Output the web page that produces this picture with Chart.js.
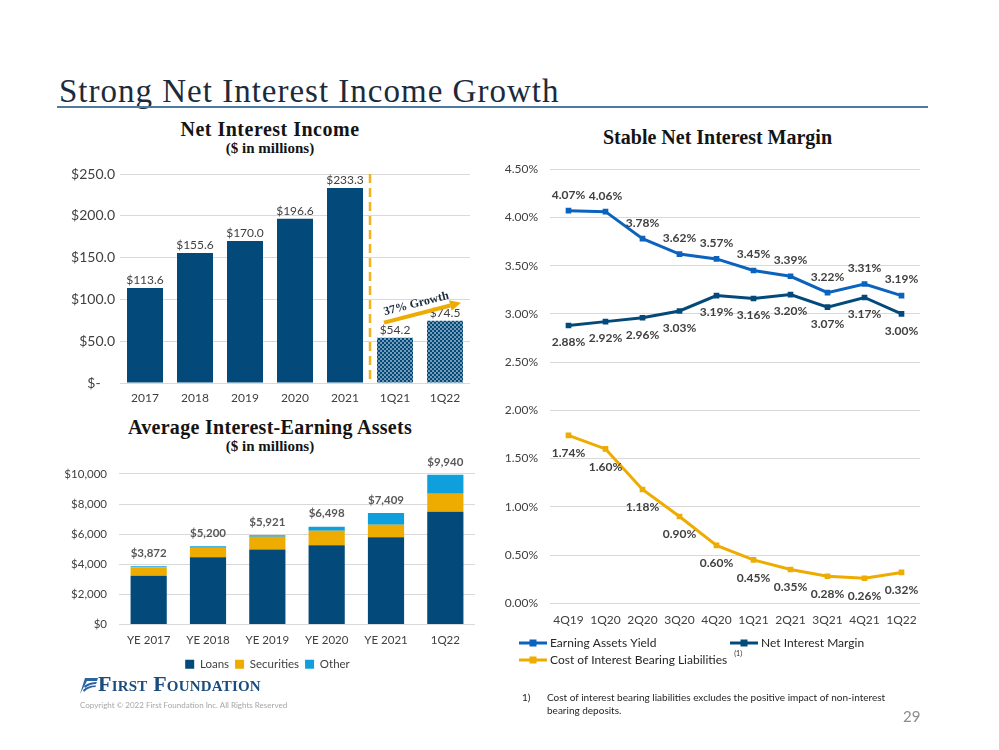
<!DOCTYPE html>
<html><head><meta charset="utf-8">
<script src="https://cdn.jsdelivr.net/npm/chart.js@4.4.1/dist/chart.umd.min.js"></script>
<style>
html,body{margin:0;padding:0;}
body{width:999px;height:750px;background:#fff;position:relative;overflow:hidden;font-family:Lato,"Open Sans",sans-serif;}
.abs{position:absolute;}
#title{left:59px;top:75px;font-family:"Liberation Serif",serif;font-size:33px;line-height:33px;letter-spacing:1px;color:#1c2b3c;white-space:nowrap;}
#rule{left:57px;top:106px;width:871px;height:2px;background:#4d7aa2;}
.ct{font-family:"Liberation Serif",serif;font-weight:bold;color:#141414;text-align:center;white-space:nowrap;}
canvas{position:absolute;}
#logo{left:78px;top:676px;height:20px;white-space:nowrap;}
#logotext{position:absolute;left:20px;top:-3px;font-family:"Liberation Serif",serif;font-weight:bold;font-variant:small-caps;font-size:22px;line-height:22px;color:#1b4c7e;letter-spacing:0.2px;}
#copy{left:80px;top:700px;font-size:8px;color:#a6a6a6;white-space:nowrap;}
#fn1{left:522px;top:691px;font-size:10px;color:#262626;}
#fn2{left:547px;top:691px;width:370px;font-size:10px;line-height:13px;color:#262626;}
#page{left:903px;top:707px;font-size:15px;color:#8c8c8c;}
</style></head>
<body>
<div id="title" class="abs">Strong Net Interest Income Growth</div>
<div id="rule" class="abs"></div>

<div class="abs ct" style="left:60px;width:420px;top:118px;font-size:20px;letter-spacing:0.5px;">Net Interest Income</div>
<div class="abs ct" style="left:60px;width:420px;top:140px;font-size:15px;">($ in millions)</div>
<div class="abs ct" style="left:60px;width:420px;top:416px;font-size:20px;letter-spacing:0.3px;">Average Interest-Earning Assets</div>
<div class="abs ct" style="left:60px;width:420px;top:438px;font-size:15px;">($ in millions)</div>
<div class="abs ct" style="left:490px;width:455px;top:126px;font-size:20px;">Stable Net Interest Margin</div>

<canvas id="c1" width="420" height="250" style="left:60px;top:160px;"></canvas>
<canvas id="c2" width="420" height="225" style="left:60px;top:455px;"></canvas>
<canvas id="c3" width="460" height="530" style="left:490px;top:150px;"></canvas>

<div id="logo" class="abs">
<svg width="20" height="18" viewBox="0 0 20 18" style="position:absolute;left:0;top:0">
<path d="M2 18 L7 2 L20 2 L19 5 L9 5 Z" fill="#2b63a0"/>
<path d="M6 10 Q11 6 19 6 L18 8 Q12 8 7 12 Z" fill="#2b63a0"/>
<path d="M5 14 Q10 9 18 9.5 L17.5 11 Q11 11 6 16 Z" fill="#2b63a0"/>
</svg>
<div id="logotext">First Foundation</div>
</div>
<div id="copy" class="abs">Copyright © 2022 First Foundation Inc. All Rights Reserved</div>
<div id="fn1" class="abs">1)</div>
<div id="fn2" class="abs">Cost of interest bearing liabilities excludes the positive impact of non-interest bearing deposits.</div>
<div id="page" class="abs">29</div>

<script>
// ---------- DATA ----------
const nii_categories = ['2017','2018','2019','2020','2021','1Q21','1Q22'];
const nii_values = [113.6, 155.6, 170.0, 196.6, 233.3, 54.2, 74.5];
const nii_growth_label = '37% Growth';

const iea_categories = ['YE 2017','YE 2018','YE 2019','YE 2020','YE 2021','1Q22'];
const iea_loans = [3240, 4460, 4980, 5270, 5790, 7490];
const iea_securities = [560, 630, 840, 950, 840, 1200];
const iea_other = [72, 110, 101, 278, 779, 1250];
const iea_totals = [3872, 5200, 5921, 6498, 7409, 9940];

const nim_categories = ['4Q19','1Q20','2Q20','3Q20','4Q20','1Q21','2Q21','3Q21','4Q21','1Q22'];
const earning_assets_yield = [4.07, 4.06, 3.78, 3.62, 3.57, 3.45, 3.39, 3.22, 3.31, 3.19];
const net_interest_margin = [2.88, 2.92, 2.96, 3.03, 3.19, 3.16, 3.20, 3.07, 3.17, 3.00];
const cost_ib_liabilities = [1.74, 1.60, 1.18, 0.90, 0.60, 0.45, 0.35, 0.28, 0.26, 0.32];

// ---------- STYLE ----------
const NAVY = '#034a7b';
const GOLD = '#eeab00';
const SKY = '#0e9fdc';
const BLUE = '#0b63bd';
const TXT = '#404040';
const GRID = '#d9d9d9';
const FONT = 'Lato';

Chart.defaults.font.family = FONT;
Chart.defaults.color = TXT;

function makePattern(){
  const p = document.createElement('canvas');
  p.width = 4; p.height = 4;
  const g = p.getContext('2d');
  g.fillStyle = '#ffffff'; g.fillRect(0,0,4,4);
  g.fillStyle = NAVY;
  g.fillRect(0,0,2,2); g.fillRect(2,2,2,2);
  g.globalAlpha = 0.55; g.fillRect(2,0,2,2); g.fillRect(0,2,2,2);
  return document.getElementById('c1').getContext('2d').createPattern(p,'repeat');
}
const pattern = makePattern();

// ---------- CHART 1 ----------
const niiLabels = {
  id:'niiLabels',
  afterDatasetsDraw(chart){
    const {ctx, chartArea, scales:{x,y}} = chart;
    const meta = chart.getDatasetMeta(0);
    ctx.save();
    ctx.font = '12px ' + FONT;
    ctx.fillStyle = TXT;
    ctx.textAlign = 'center';
    ctx.textBaseline = 'middle';
    meta.data.forEach((bar,i)=>{
      ctx.fillText('$' + nii_values[i].toFixed(1), bar.x, bar.y - 8);
    });
    // divider between annual and quarterly
    const xd = (x.getPixelForValue(4) + x.getPixelForValue(5)) / 2;
    ctx.strokeStyle = '#f0b323';
    ctx.lineWidth = 2.5;
    ctx.setLineDash([9,5]);
    ctx.beginPath(); ctx.moveTo(xd, chartArea.top); ctx.lineTo(xd, chartArea.bottom); ctx.stroke();
    ctx.setLineDash([]);
    // growth arrow
    const b5 = meta.data[5], b6 = meta.data[6];
    const x0 = b5.x - 11, y0 = b5.y - 15;
    const x1 = b6.x + 16, y1 = b6.y - 18;
    const ang = Math.atan2(y1 - y0, x1 - x0);
    const head = 11;
    ctx.strokeStyle = GOLD; ctx.fillStyle = GOLD; ctx.lineWidth = 4;
    ctx.beginPath();
    ctx.moveTo(x0, y0);
    ctx.lineTo(x1 - head*Math.cos(ang), y1 - head*Math.sin(ang));
    ctx.stroke();
    ctx.beginPath();
    ctx.moveTo(x1, y1);
    ctx.lineTo(x1 - head*Math.cos(ang) + 5.5*Math.sin(ang), y1 - head*Math.sin(ang) - 5.5*Math.cos(ang));
    ctx.lineTo(x1 - head*Math.cos(ang) - 5.5*Math.sin(ang), y1 - head*Math.sin(ang) + 5.5*Math.cos(ang));
    ctx.closePath(); ctx.fill();
    const mx = (x0 + x1)/2 - 4, my = (y0 + y1)/2;
    ctx.translate(mx + 9*Math.sin(ang), my - 9*Math.cos(ang));
    ctx.rotate(ang);
    ctx.fillStyle = '#1c2b3c';
    ctx.font = 'bold 12px "Liberation Serif"';
    ctx.textAlign = 'center'; ctx.textBaseline = 'middle';
    ctx.fillText(nii_growth_label, 0, 0);
    ctx.restore();
  }
};

new Chart(document.getElementById('c1'), {
  type:'bar',
  data:{ labels:nii_categories, datasets:[{
    data:nii_values,
    backgroundColor:(c)=> c.dataIndex >= 5 ? pattern : NAVY,
    categoryPercentage:0.72, barPercentage:1
  }]},
  options:{
    responsive:false, animation:false, devicePixelRatio:1,
    layout:{padding:{top:14, right:10, left:0, bottom:0}},
    plugins:{legend:{display:false}, tooltip:{enabled:false}},
    scales:{
      x:{ grid:{display:false, drawTicks:false}, border:{display:false},
          ticks:{font:{size:12}, color:TXT, padding:8},
          afterFit:(s)=>{ s.height = 27; } },
      y:{ min:0, max:250, border:{display:false},
          grid:{color:GRID, drawTicks:false},
          ticks:{stepSize:50, font:{size:14}, color:TXT, padding:5,
                 callback:(v)=> v === 0 ? '$-    ' : '$' + v.toFixed(1)},
          afterFit:(s)=>{ s.width = 60; } }
    }
  },
  plugins:[niiLabels]
});

// ---------- CHART 2 ----------
const ieaTotals = {
  id:'ieaTotals',
  afterDatasetsDraw(chart){
    const {ctx} = chart;
    const meta = chart.getDatasetMeta(2);
    ctx.save();
    ctx.font = 'bold 11.5px ' + FONT;
    ctx.fillStyle = '#595959';
    ctx.textAlign = 'center'; ctx.textBaseline = 'middle';
    meta.data.forEach((bar,i)=>{
      ctx.fillText('$' + iea_totals[i].toLocaleString('en-US'), bar.x, bar.y - 13);
    });
    ctx.restore();
  }
};

new Chart(document.getElementById('c2'), {
  type:'bar',
  data:{ labels:iea_categories, datasets:[
    {label:'Loans', data:iea_loans, backgroundColor:NAVY},
    {label:'Securities', data:iea_securities, backgroundColor:GOLD},
    {label:'Other', data:iea_other, backgroundColor:SKY}
  ]},
  options:{
    responsive:false, animation:false, devicePixelRatio:1,
    datasets:{bar:{categoryPercentage:0.61, barPercentage:1}},
    layout:{padding:{top:17.7, right:5, left:0, bottom:0}},
    plugins:{
      legend:{position:'bottom', labels:{boxWidth:9, boxHeight:9, padding:6, font:{size:11.5}, color:TXT}},
      tooltip:{enabled:false}
    },
    scales:{
      x:{ stacked:true, grid:{display:false, drawTicks:false}, border:{display:false},
          ticks:{font:{size:11.5}, color:TXT, padding:9},
          afterFit:(s)=>{ s.height = 28; } },
      y:{ stacked:true, min:0, max:10000, border:{display:false},
          grid:{color:GRID, drawTicks:false},
          ticks:{stepSize:2000, font:{size:11.5}, color:TXT, padding:12,
                 callback:(v)=> '$' + v.toLocaleString('en-US')},
          afterFit:(s)=>{ s.width = 59; } }
    }
  },
  plugins:[ieaTotals]
});

// ---------- CHART 3 ----------
const nimLabels = {
  id:'nimLabels',
  afterDatasetsDraw(chart){
    const {ctx} = chart;
    const offsets = [-16, 17, 18];
    ctx.save();
    ctx.font = 'bold 12px ' + FONT;
    ctx.fillStyle = TXT;
    ctx.textAlign = 'center'; ctx.textBaseline = 'middle';
    chart.data.datasets.forEach((ds,di)=>{
      chart.getDatasetMeta(di).data.forEach((pt,i)=>{
        ctx.fillText(ds.data[i].toFixed(2) + '%', pt.x, pt.y + offsets[di]);
      });
    });
    ctx.restore();
  },
  afterDraw(chart){
    const {ctx} = chart;
    const ox = 490, oy = 150; // canvas page offset
    const items = [
      {ds:0, lx:519, ly:643},
      {ds:1, lx:730, ly:643},
      {ds:2, lx:519, ly:660}
    ];
    ctx.save();
    ctx.font = '12px ' + FONT;
    ctx.textAlign = 'left'; ctx.textBaseline = 'middle';
    items.forEach(it=>{
      const ds = chart.data.datasets[it.ds];
      const x = it.lx - ox, y = it.ly - oy;
      ctx.strokeStyle = ds.borderColor; ctx.lineWidth = 3;
      ctx.beginPath(); ctx.moveTo(x, y); ctx.lineTo(x + 28, y); ctx.stroke();
      ctx.fillStyle = ds.borderColor; ctx.fillRect(x + 10.5, y - 3.5, 7, 7);
      ctx.fillStyle = '#262626';
      ctx.fillText(ds.label, x + 31, y);
      if (it.ds === 2) {
        const w = ctx.measureText(ds.label).width;
        ctx.font = '7px ' + FONT;
        ctx.fillText('(1)', x + 31 + w + 7, y - 6);
        ctx.font = '12px ' + FONT;
      }
    });
    ctx.restore();
  }
};

function lineDs(label, data, color){
  return {label, data, borderColor:color, backgroundColor:color, borderWidth:3,
          pointStyle:'rect', pointRadius:4, pointBackgroundColor:color, pointBorderWidth:0,
          tension:0, fill:false};
}

new Chart(document.getElementById('c3'), {
  type:'line',
  data:{ labels:nim_categories, datasets:[
    lineDs('Earning Assets Yield', earning_assets_yield, BLUE),
    lineDs('Net Interest Margin', net_interest_margin, NAVY),
    lineDs('Cost of Interest Bearing Liabilities', cost_ib_liabilities, GOLD)
  ]},
  options:{
    responsive:false, animation:false, devicePixelRatio:1,
    layout:{padding:{top:17.3, right:30, left:0, bottom:46.7}},
    plugins:{legend:{display:false}, tooltip:{enabled:false}},
    scales:{
      x:{ offset:true, grid:{display:false, drawTicks:false}, border:{display:false},
          ticks:{font:{size:12}, color:TXT, padding:10},
          afterFit:(s)=>{ s.height = 30; } },
      y:{ min:0, max:4.5, border:{display:false},
          grid:{color:GRID, drawTicks:false},
          ticks:{stepSize:0.5, font:{size:12}, color:TXT, padding:12,
                 callback:(v)=> v.toFixed(2) + '%'},
          afterFit:(s)=>{ s.width = 60; } }
    }
  },
  plugins:[nimLabels]
});
</script>
</body></html>
